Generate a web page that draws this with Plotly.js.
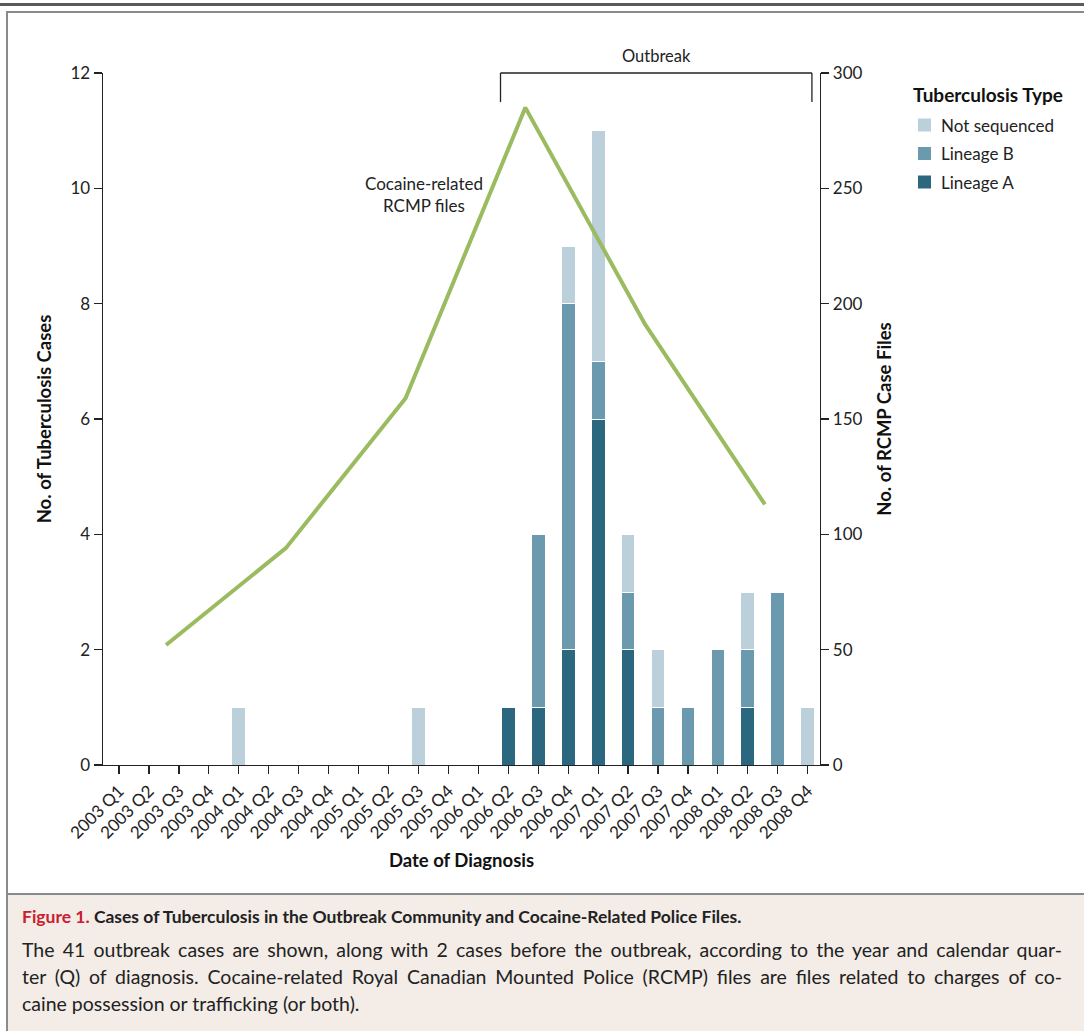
<!DOCTYPE html>
<html>
<head>
<meta charset="utf-8">
<script src="https://cdn.plot.ly/plotly-3.0.1.min.js"></script>
<style>
  html, body { margin:0; padding:0; background:#fff; }
  #wrap { position:relative; width:1084px; height:1036px; overflow:hidden; }
  #topline { position:absolute; left:0; top:3px; width:1084px; height:3px; background:#5a5a5a; }
  #frame { position:absolute; left:6px; top:11px; width:1090px; height:1020px; border:2px solid #8a8a8a; box-sizing:border-box; }
  #caption { position:absolute; left:8px; top:893px; width:1090px; height:138px; background:#f3ece7; border-top:2px solid #8a8a8a; box-sizing:border-box; }
  #capText { position:absolute; left:14px; top:8px; width:1040px; font-family:"Lato","Open Sans",sans-serif; color:#222; }
  #capText .l { line-height:27px; white-space:nowrap; font-size:19.5px; }
  #capText .t { font-size:17.5px; font-weight:bold; margin-bottom:6px; }
  #capText .j { text-align:justify; text-align-last:justify; white-space:normal; }
  #chart { position:absolute; left:0; top:0; width:1084px; height:1036px; }
</style>
</head>
<body>
<div id="wrap">
  <div id="topline"></div>
  <div id="frame"></div>
  <div id="caption">
    <div id="capText">
      <div class="l t"><span style="color:#c8202f;">Figure 1.</span> Cases of Tuberculosis in the Outbreak Community and Cocaine-Related Police Files.</div>
      <div class="l j">The 41 outbreak cases are shown, along with 2 cases before the outbreak, according to the year and calendar quar-</div>
      <div class="l j">ter (Q) of diagnosis. Cocaine-related Royal Canadian Mounted Police (RCMP) files are files related to charges of co-</div>
      <div class="l">caine possession or trafficking (or both).</div>
    </div>
  </div>
  <div id="chart"></div>
</div>
<script>
const quarters = ["2003 Q1","2003 Q2","2003 Q3","2003 Q4","2004 Q1","2004 Q2","2004 Q3","2004 Q4",
                  "2005 Q1","2005 Q2","2005 Q3","2005 Q4","2006 Q1","2006 Q2","2006 Q3","2006 Q4",
                  "2007 Q1","2007 Q2","2007 Q3","2007 Q4","2008 Q1","2008 Q2","2008 Q3","2008 Q4"];
const lineageA     = [0,0,0,0,0,0,0,0,0,0,0,0,0,1,1,2,6,2,0,0,0,1,0,0];
const lineageB     = [0,0,0,0,0,0,0,0,0,0,0,0,0,0,3,6,1,1,1,1,2,1,3,0];
const notSequenced = [0,0,0,0,1,0,0,0,0,0,1,0,0,0,0,1,4,1,1,0,0,1,0,1];
const rcmpYears = [2003,2004,2005,2006,2007,2008];
const rcmpFiles = [52,94,159,285,191,113];

const seriesNames  = ["Not sequenced","Lineage B","Lineage A"];
const seriesColors = ["#bcd0dc","#6b9aae","#2b6880"];

const xIdx = quarters.map((q,i)=>i);
// annual values plotted at mid-year on the quarter scale
const rcmpX = rcmpYears.map(y => (y-2003)*4 + 1.57);

const FONT = '"Lato","Open Sans",sans-serif';
const barLine = {color:'#ffffff', width:1};
const TICKF = {family:FONT, size:17, color:'#222'};
const TITLEF = {family:FONT, size:18.5, color:'#111'};

const traces = [
  {type:'bar', name:seriesNames[2], x:xIdx, y:lineageA, marker:{color:seriesColors[2], line:barLine}, width:0.46, hoverinfo:'skip'},
  {type:'bar', name:seriesNames[1], x:xIdx, y:lineageB, marker:{color:seriesColors[1], line:barLine}, width:0.46, hoverinfo:'skip'},
  {type:'bar', name:seriesNames[0], x:xIdx, y:notSequenced, marker:{color:seriesColors[0], line:barLine}, width:0.46, hoverinfo:'skip'},
  {type:'scatter', mode:'lines', name:'Cocaine-related RCMP files', x:rcmpX, y:rcmpFiles, yaxis:'y2',
   line:{color:'#9bbb60', width:4}, hoverinfo:'skip'}
];

// manual legend (paper coords derived from pixel layout)
const px = v => (v-103)/717, py = v => (765-v)/692;
const legShapes = [], legAnn = [];
legAnn.push({text:'<b>Tuberculosis Type</b>', xref:'paper', yref:'paper', x:px(911), y:py(95), xanchor:'left', yanchor:'middle',
             showarrow:false, font:{family:FONT, size:19, color:'#111'}});
seriesNames.forEach((n,i)=>{
  const cy = 125 + i*28.5;
  legShapes.push({type:'rect', xref:'paper', yref:'paper', x0:px(918), x1:px(931), y0:py(cy-6.5), y1:py(cy+6.5),
                  fillcolor:seriesColors[i], line:{width:0}});
  legAnn.push({text:n, xref:'paper', yref:'paper', x:px(939), y:py(cy), xanchor:'left', yanchor:'middle',
               showarrow:false, font:{family:FONT, size:17, color:'#222'}});
});

const layout = {
  width:1084, height:1036,
  margin:{l:103, r:264, t:73, b:271, pad:0},
  paper_bgcolor:'rgba(0,0,0,0)', plot_bgcolor:'rgba(0,0,0,0)',
  font:{family:FONT, size:17, color:'#222'},
  barmode:'stack',
  showlegend:false,
  xaxis:{range:[-0.535, 23.41], tickmode:'array', tickvals:xIdx, ticktext:quarters, tickangle:-45,
         showline:true, linecolor:'#222', linewidth:1.4, ticks:'outside', ticklen:8, tickwidth:1.2, tickcolor:'#222',
         showgrid:false, zeroline:false, fixedrange:true, tickfont:TICKF,
         title:{text:'<b>Date of Diagnosis</b>', font:TITLEF, standoff:12}},
  yaxis:{range:[0,12], dtick:2, showline:true, linecolor:'#222', linewidth:1.4, ticks:'outside', ticklen:8, tickwidth:1.2, tickcolor:'#222',
         showgrid:false, zeroline:false, fixedrange:true, tickfont:TICKF,
         title:{text:'<b>No. of Tuberculosis Cases</b>', font:TITLEF, standoff:14}},
  yaxis2:{range:[0,300], dtick:50, overlaying:'y', side:'right', showline:true, linecolor:'#222', linewidth:1.4,
          ticks:'outside', ticklen:8, tickwidth:1.2, tickcolor:'#222', showgrid:false, zeroline:false, fixedrange:true,
          tickfont:TICKF,
          title:{text:'<b>No. of RCMP Case Files</b>', font:TITLEF, standoff:16}},
  shapes:[
    {type:'line', xref:'x', yref:'paper', x0:12.74, x1:23.14, y0:1, y1:1, line:{color:'#222', width:1.3}},
    {type:'line', xref:'x', yref:'paper', x0:12.74, x1:12.74, y0:1, y1:0.958, line:{color:'#222', width:1.3}},
    {type:'line', xref:'x', yref:'paper', x0:23.14, x1:23.14, y0:1, y1:0.958, line:{color:'#222', width:1.3}}
  ].concat(legShapes),
  annotations:[
    {text:'Outbreak', xref:'x', yref:'paper', x:17.94, y:1, yanchor:'bottom', yshift:5, showarrow:false,
     font:{family:FONT, size:16.5, color:'#222'}},
    {text:'Cocaine-related<br>RCMP files', xref:'paper', yref:'paper', x:px(424), y:py(194),
     xanchor:'center', yanchor:'middle', align:'center', showarrow:false,
     font:{family:FONT, size:17, color:'#222'}}
  ].concat(legAnn)
};

Plotly.newPlot('chart', traces, layout, {displayModeBar:false, staticPlot:true});
</script>
</body>
</html>
